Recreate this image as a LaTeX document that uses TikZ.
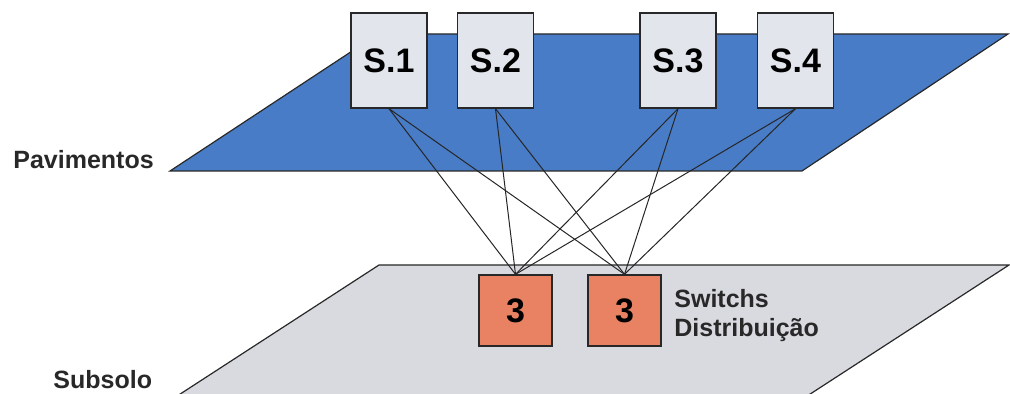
\documentclass[tikz,border=0pt]{standalone}
\usepackage{fontspec}
\setmainfont{Liberation Sans}
\usepackage{xcolor}
\usetikzlibrary{positioning, calc}
\definecolor{floorblue}{RGB}{72,124,198}
\definecolor{basegrey}{RGB}{216,218,223}
\definecolor{swgrey}{RGB}{226,229,236}
\definecolor{swred}{RGB}{232,130,98}
\definecolor{inkdark}{RGB}{40,40,40}
\tikzset{
    floorswitch/.style={rectangle, draw=inkdark, line width=0.7pt, fill=swgrey, minimum width=38pt, minimum height=47.5pt, inner sep=0pt, font=\fontsize{17}{20}\selectfont\bfseries},
    coreswitch/.style={rectangle, draw=inkdark, line width=0.7pt, fill=swred, minimum width=36.5pt, minimum height=35.5pt, inner sep=0pt, font=\fontsize{17}{20}\selectfont\bfseries},
    plane/.style={draw=inkdark, line width=0.6pt},
    label/.style={inner sep=0pt, text=inkdark, font=\fontsize{12.5}{14.5}\selectfont\bfseries},
    wire/.style={draw=black!85, line width=0.5pt}
}
\begin{document}
\begin{tikzpicture}[x=0.5pt, y=-0.5pt]
    \useasboundingbox (0,0) rectangle (1010,394);

    % andares
    \fill[floorblue] (170,171) -- (378,34) -- (1008,34) -- (802,171) -- cycle;
    \draw[plane] (170,171) -- (378,34) -- (1008,34) -- (802,171) -- cycle;

    % subsolo
    \fill[basegrey] (171,400) -- (379,265) -- (1009,265) -- (801,400) -- cycle;
    \draw[plane] (171,400) -- (379,265) -- (1009,265) -- (801,400);

    \node[floorswitch] (s1) at (389,60.5) {S.1};
    \node[floorswitch] (s2) at (495.5,60.5) {S.2};
    \node[floorswitch] (s3) at (678,60.5) {S.3};
    \node[floorswitch] (s4) at (795.5,60.5) {S.4};

    \node[coreswitch] (d1) at (515.5,310.5) {3};
    \node[coreswitch] (d2) at (624.5,310.5) {3};

    \foreach \s in {s1,s2,s3,s4} {
        \draw[wire] (\s.south) -- (d1.north);
        \draw[wire] (\s.south) -- (d2.north);
    }

    \node[label, anchor=base west] (pav) at (13,169) {Pavimentos};
    \node[label, anchor=base west] (sub) at (53,389) {Subsolo};
    \node[label, anchor=north west, align=left] (dist) at (674,289) {Switchs\\Distribuição};
\end{tikzpicture}
\end{document}
